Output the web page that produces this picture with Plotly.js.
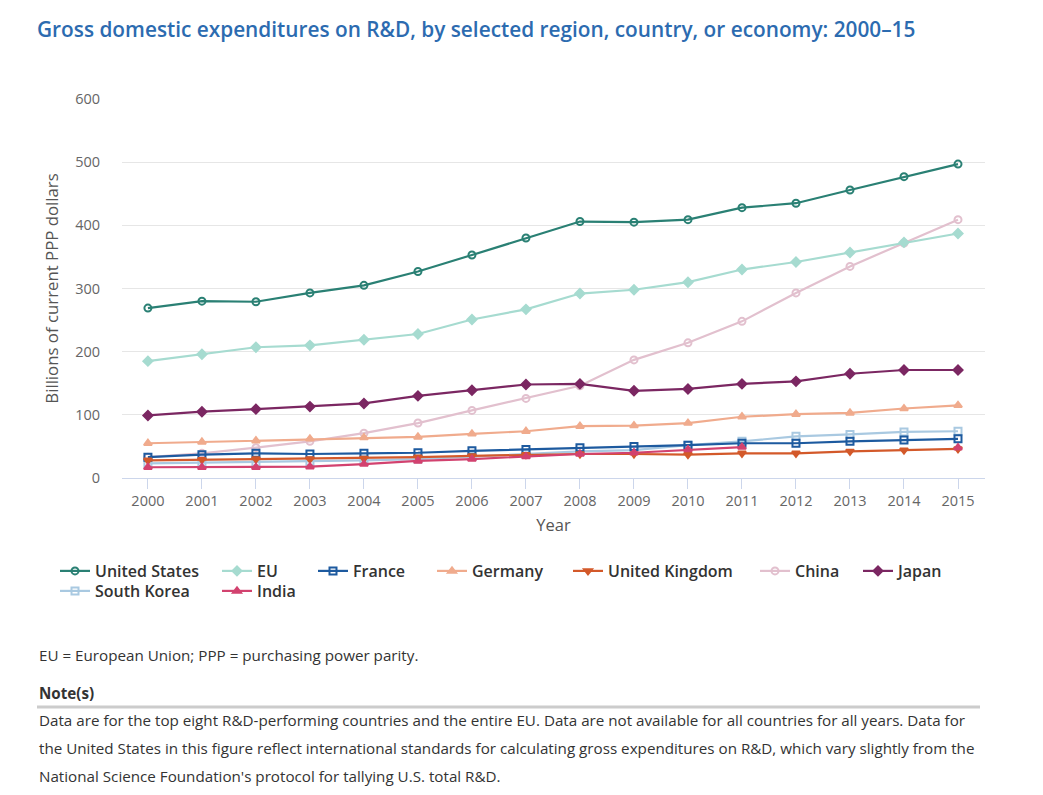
<!DOCTYPE html>
<html>
<head>
<meta charset="utf-8">
<script src="https://cdn.plot.ly/plotly-3.0.1.min.js"></script>
<style>html,body{margin:0;padding:0;background:#fff;}#chart{width:1043px;height:795px;}</style>
</head>
<body>
<div id="chart"></div>
<script>
const years = [2000,2001,2002,2003,2004,2005,2006,2007,2008,2009,2010,2011,2012,2013,2014,2015];
const unitedStates = [269,280,279,293,305,327,353,380,406,405,409,428,435,456,477,497];
const eu = [185,196,207,210,219,228,251,267,292,298,310,330,342,357,373,387];
const france = [33,37,39,38,39,40,43,45,48,50,52,55,55,58,60,62];
const germany = [55,57,59,62,64,65,70,74,82,83,87,97,101,103,110,115];
const unitedKingdom = [28,29,30,30,31,33,35,37,38,38,37,39,39,42,44,46];
const china = [33,39,48,58,71,87,107,126,146,187,214,248,293,335,372,409];
const japan = [99,105,109,113,118,130,139,148,149,138,141,149,153,165,171,171];
const southKorea = [23,24,25,26,28,30,34,38,42,44,52,58,66,69,73,74];
const india = [17,17,17,18,22,27,30,34,38,40,45,49,null,null,null,48];
const yTicks = [0,100,200,300,400,500,600];

const W = 1043, H = 795, L = 122, R = 985, T = 99, B = 478;
const px = x => (x - L) / (R - L);
const py = y => (B - y) / (B - T);

const series = [
  {name:'United States', y:unitedStates, color:'#2a8074', symbol:'circle-open', lx:75, ly:571},
  {name:'EU', y:eu, color:'#a6dbd0', symbol:'diamond', lx:237, ly:571},
  {name:'France', y:france, color:'#1d5a9f', symbol:'square-open', lx:333, ly:571},
  {name:'Germany', y:germany, color:'#f0ab8d', symbol:'triangle-up', lx:452, ly:571},
  {name:'United Kingdom', y:unitedKingdom, color:'#d3592a', symbol:'triangle-down', lx:588, ly:571},
  {name:'China', y:china, color:'#e2c0ce', symbol:'circle-open', lx:775, ly:571},
  {name:'Japan', y:japan, color:'#7b2762', symbol:'diamond', lx:878, ly:571},
  {name:'South Korea', y:southKorea, color:'#a9c9e1', symbol:'square-open', lx:75, ly:591},
  {name:'India', y:india, color:'#d2426f', symbol:'triangle-up', lx:237, ly:591}
];

// draw order: later on top
const order = [5,1,0,6,3,7,2,4,8];
const traces = order.map(i => {
  const s = series[i];
  return {
    x: years, y: s.y, name: s.name, type:'scatter', mode:'lines+markers',
    line:{color:s.color, width:2.2},
    marker:{symbol:s.symbol, size:7, color:s.color, line:{color:s.color, width:2}},
    connectgaps:false, hoverinfo:'skip',
    legend: i === 0 ? 'legend' : 'legend' + (i+1)
  };
});

const noteFont = {size:15.2, color:'#333'};
const layout = {
  width: W, height: H,
  margin:{l:L, r:W-R, t:T, b:H-B, pad:0},
  paper_bgcolor:'#fff', plot_bgcolor:'#fff',
  font:{family:'"Open Sans", sans-serif', color:'#333'},
  title:{text:'Gross domestic expenditures on R&D, by selected region, country, or economy: 2000–15',
    font:{size:20.8, color:'#2c6bb0', family:'"Open Sans", sans-serif', weight:600},
    xref:'container', yref:'container', x:37/W, y:1-30/H, xanchor:'left', yanchor:'middle'},
  xaxis:{range:[1999.52,2015.5], tickvals:years, ticktext:years.map(String), showgrid:false,
    zeroline:false, showline:true, linecolor:'#ccd6eb', linewidth:1,
    ticks:'outside', ticklen:10, tickcolor:'#ccd6eb', tickwidth:1,
    tickfont:{size:14.5, color:'#666'},
    title:{text:'Year', font:{size:16.5, color:'#555'}, standoff:10}, fixedrange:true},
  yaxis:{range:[0,600], tickvals:yTicks, ticktext:yTicks.map(String), showgrid:true, gridcolor:'#e6e6e6',
    zeroline:false, showline:false, ticks:'', tickfont:{size:14.5, color:'#666'}, ticklabelstandoff:21,
    title:{text:'Billions of current PPP dollars', font:{size:16.8, color:'#555'}, standoff:12}, fixedrange:true},
  showlegend:true,
  annotations:[
    {text:'EU = European Union; PPP = purchasing power parity.', xref:'paper', yref:'paper', x:px(37), y:py(655), xanchor:'left', yanchor:'middle', showarrow:false, font:noteFont},
    {text:'<b>Note(s)</b>', xref:'paper', yref:'paper', x:px(37), y:py(693), xanchor:'left', yanchor:'middle', showarrow:false, font:noteFont},
    {text:'Data are for the top eight R&D-performing countries and the entire EU. Data are not available for all countries for all years. Data for', xref:'paper', yref:'paper', x:px(37), y:py(720), xanchor:'left', yanchor:'middle', showarrow:false, font:noteFont},
    {text:'the United States in this figure reflect international standards for calculating gross expenditures on R&D, which vary slightly from the', xref:'paper', yref:'paper', x:px(37), y:py(748), xanchor:'left', yanchor:'middle', showarrow:false, font:noteFont},
    {text:"National Science Foundation's protocol for tallying U.S. total R&D.", xref:'paper', yref:'paper', x:px(37), y:py(776), xanchor:'left', yanchor:'middle', showarrow:false, font:noteFont}
  ],
  shapes:[
    {type:'line', xref:'paper', yref:'paper', x0:px(37), x1:px(980), y0:py(707), y1:py(707), line:{color:'#cccccc', width:3}}
  ]
};

series.forEach((s, i) => {
  const key = i === 0 ? 'legend' : 'legend' + (i+1);
  layout[key] = {x:px(s.lx - 20), y:py(s.ly), xanchor:'left', yanchor:'middle', orientation:'h',
    bgcolor:'rgba(0,0,0,0)', borderwidth:0, font:{size:16, color:'#333', weight:600}, itemclick:false, itemdoubleclick:false};
});

Plotly.newPlot('chart', traces, layout, {displayModeBar:false, staticPlot:true});
</script>
</body>
</html>
